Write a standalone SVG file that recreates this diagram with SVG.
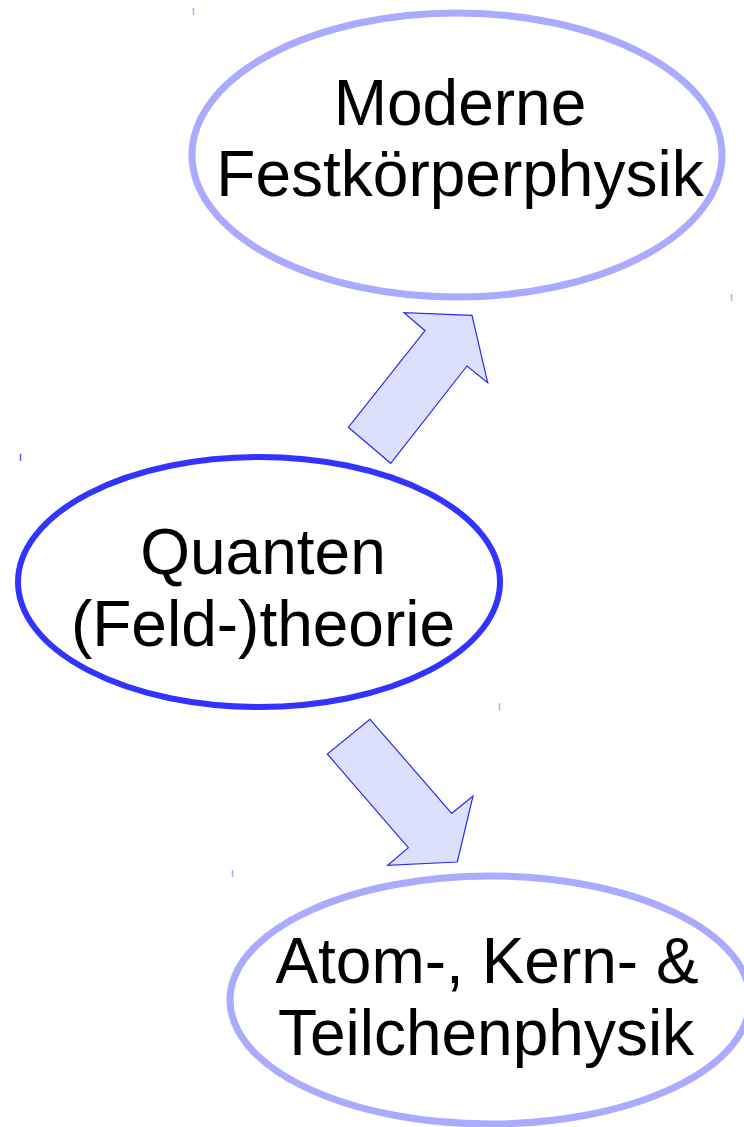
<svg xmlns="http://www.w3.org/2000/svg" width="744" height="1127" viewBox="0 0 744 1127">
  <style>
    .label { font-family: "Liberation Sans", Arial, sans-serif; font-size: 64px; fill: #000; text-anchor: middle; }
    .outer { fill: #fff; stroke: #aaaaff; stroke-width: 7; }
    .core { fill: #fff; stroke: #3333ff; stroke-width: 6; }
    .flow { fill: #dde0fc; stroke: #2b2bf5; stroke-width: 1.2; stroke-linejoin: miter; }
    .tick { stroke: #aaaaff; stroke-width: 1.5; }
  </style>

  <!-- corner marks -->
  <g id="marks">
    <line class="tick" x1="193.5" y1="8" x2="193.5" y2="15"/>
    <line class="tick" x1="731.5" y1="294" x2="731.5" y2="301"/>
    <line x1="20.5" y1="454" x2="20.5" y2="461" stroke="#5555ff" stroke-width="1.5"/>
    <line class="tick" x1="499.5" y1="703" x2="499.5" y2="710"/>
    <line class="tick" x1="232.5" y1="870" x2="232.5" y2="877"/>
  </g>

  <g id="connectors">
    <polygon class="flow" points="348.3,427.3 390.7,463.3 467,366 487.7,382.7 472,315.3 404,312.7 425,330.7"/>
    <polygon class="flow" points="370,719.3 327.3,754 408.3,847.7 387.7,865.3 457.3,862 473,796 451.7,813.3"/>
  </g>

  <g id="festkoerper">
    <ellipse class="outer" cx="457" cy="155" rx="265" ry="142"/>
    <text class="label" x="460" y="125">Moderne</text>
    <text class="label" x="460" y="196">Festkörperphysik</text>
  </g>

  <g id="quanten">
    <ellipse class="core" cx="259" cy="582" rx="241" ry="125"/>
    <text class="label" x="263" y="574">Quanten</text>
    <text class="label" x="263" y="646">(Feld-)theorie</text>
  </g>

  <g id="teilchen">
    <ellipse class="outer" cx="490" cy="1000" rx="260" ry="124"/>
    <text class="label" x="487" y="983">Atom-, Kern- &amp;</text>
    <text class="label" x="486" y="1055">Teilchenphysik</text>
  </g>
</svg>
